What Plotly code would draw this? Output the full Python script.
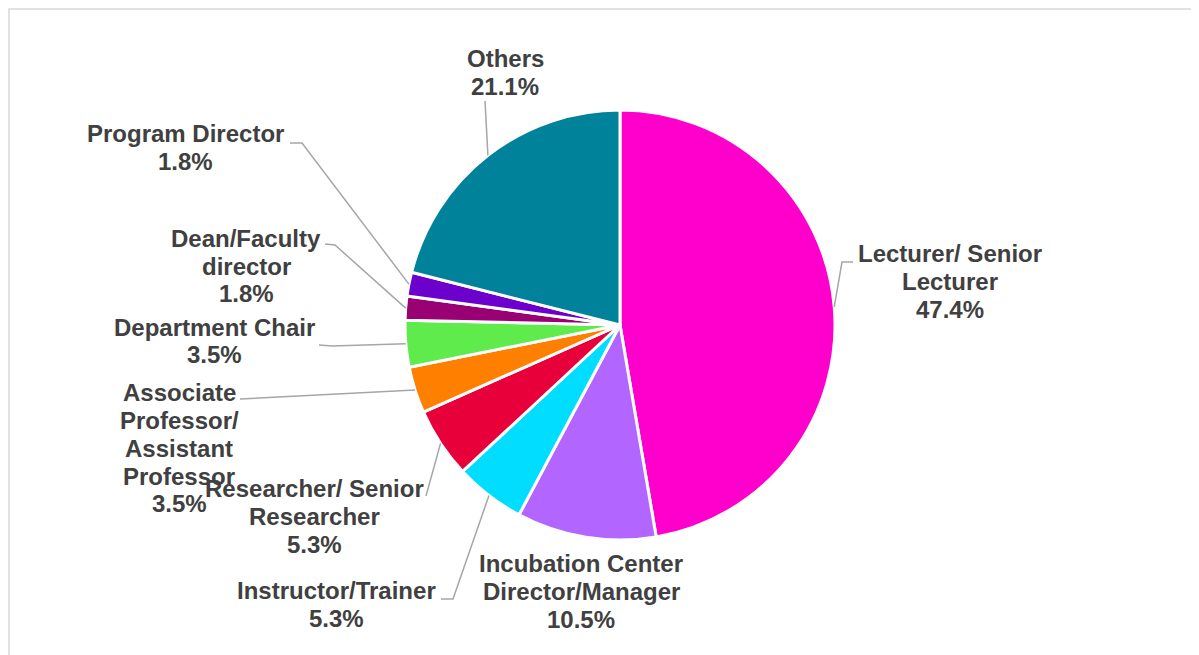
import math
import plotly.graph_objects as go

# the page puts the figure 8px in from the top-left corner
OFF = 8
W, H = 1199 - OFF, 655 - OFF

roles = ["Lecturer/ Senior Lecturer", "Incubation Center Director/Manager", "Instructor/Trainer",
         "Researcher/ Senior Researcher", "Associate Professor/ Assistant Professor", "Department Chair",
         "Dean/Faculty director", "Program Director", "Others"]
shares = [47.4, 10.5, 5.3, 5.3, 3.5, 3.5, 1.8, 1.8, 21.1]
colors = ["#FF00CC", "#B266FF", "#00DDFF", "#E8003A", "#FF8000", "#5EEB4B", "#990073", "#6C00CC", "#00829A"]

# how each label is broken into lines (as in the original chart)
label_lines = [["Lecturer/ Senior", "Lecturer"],
               ["Incubation Center", "Director/Manager"],
               ["Instructor/Trainer"],
               ["Researcher/ Senior", "Researcher"],
               ["Associate", "Professor/", "Assistant", "Professor"],
               ["Department Chair"],
               ["Dean/Faculty", "director"],
               ["Program Director"],
               ["Others"]]

# label placement in page pixels: centre x, first line y, leader points from label side
label_pos = [(950, 253, [(853, 262), (842, 262)]),
             (581, 563, []),
             (336, 590, [(441, 599), (453, 599)]),
             (314, 488, [(426, 496)]),
             (179, 392, [(240, 399)]),
             (214, 327, [(319, 345), (332, 346)]),
             (246, 238, [(325, 244), (335, 245)]),
             (185, 133, [(290, 143), (302, 143)]),
             (505, 58, [(485, 101)])]

cx, cy, R = 620, 325, 215
LINE_GAP = 28


def px(x):
    return (x - OFF) / W


def py(y):
    return 1 - (y - OFF) / H


fig = go.Figure(go.Pie(
    labels=roles, values=shares, sort=False, direction="clockwise", rotation=0,
    marker=dict(colors=colors, line=dict(color="white", width=3)),
    textinfo="none", hoverinfo="label+percent", showlegend=False,
    domain=dict(x=[px(cx - R), px(cx + R)], y=[py(cy + R), py(cy - R)]),
))

annotations = []
shapes = []
total = sum(shares)
cum = 0
for name, val, lines, (lx, ly, leader) in zip(roles, shares, label_lines, label_pos):
    mid = (cum + val / 2) / total * 2 * math.pi
    cum += val
    tip = (cx + R * math.sin(mid), cy - R * math.cos(mid))
    for i, t in enumerate(lines + [f"{val:.1f}%"]):
        annotations.append(dict(x=px(lx), y=py(ly + i * LINE_GAP), xref="paper", yref="paper",
                                text=f"<b>{t}</b>", showarrow=False, xanchor="center", yanchor="middle",
                                font=dict(size=24, color="#404040", family="Liberation Sans, Arial")))
    if leader:
        path = f"M {px(leader[0][0])} {py(leader[0][1])}"
        for p in leader[1:]:
            path += f" L {px(p[0])} {py(p[1])}"
        path += f" L {px(tip[0])} {py(tip[1])}"
        shapes.append(dict(type="path", path=path, xref="paper", yref="paper",
                           line=dict(color="#A6A6A6", width=1.5)))

# light frame around the chart area
shapes.append(dict(type="rect", xref="paper", yref="paper", x0=px(OFF + 1), y0=py(OFF + 1),
                   x1=px(1210), y1=py(665), line=dict(color="#D9D9D9", width=1.5)))

fig.update_layout(width=W, height=H, margin=dict(l=0, r=0, t=0, b=0),
                  paper_bgcolor="white", plot_bgcolor="white",
                  annotations=annotations, shapes=shapes)

fig.write_html("out.html")
